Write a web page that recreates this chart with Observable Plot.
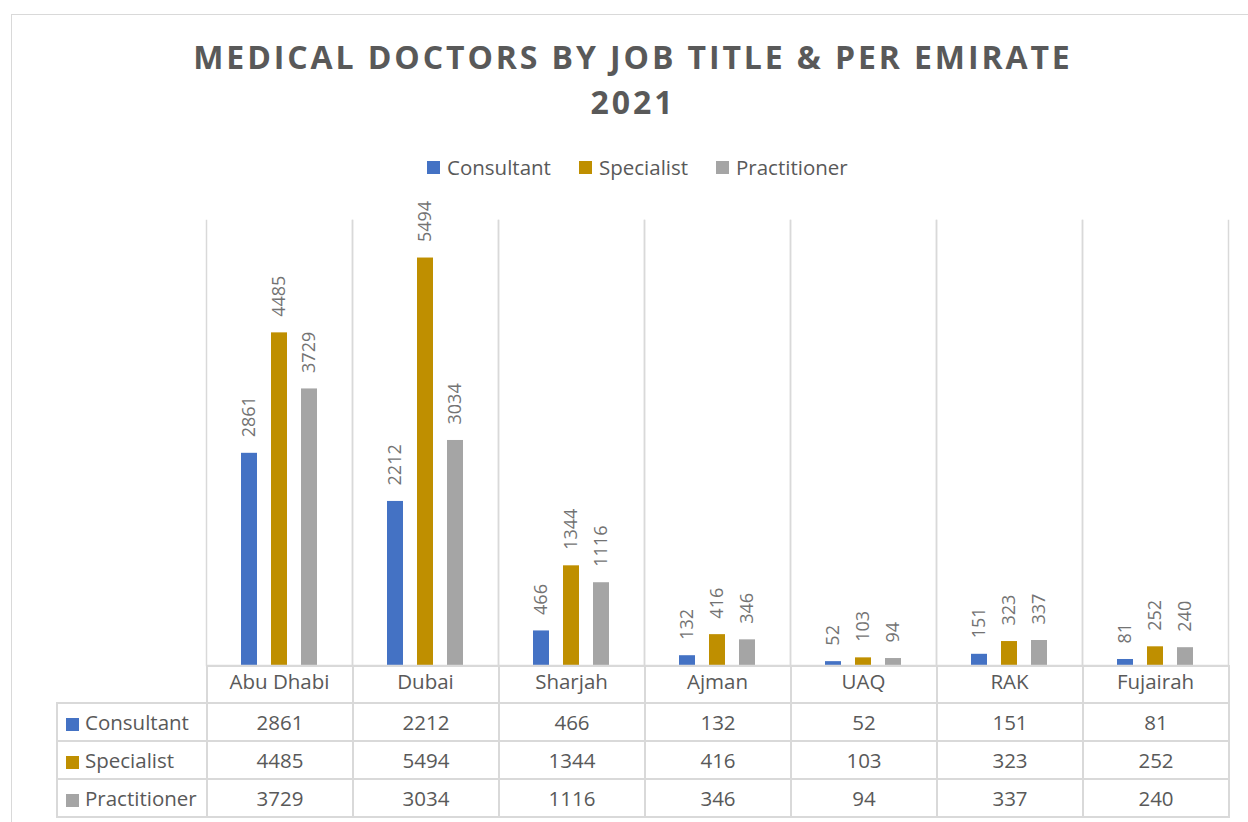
<!DOCTYPE html>
<html>
<head>
<meta charset="utf-8">
<script src="https://cdn.jsdelivr.net/npm/d3@7"></script>
<script src="https://cdn.jsdelivr.net/npm/@observablehq/plot@0.6"></script>
<style>
  html, body { margin:0; padding:0; background:#fff; width:1248px; height:822px; overflow:hidden; }
  body { position:relative; font-family:"Open Sans", sans-serif; color:#595959; }
  #frame { position:absolute; left:11px; top:14px; width:1400px; height:1000px; border:1px solid #d9d9d9; }
  #title { position:absolute; left:0; top:34px; width:1266px; text-align:center; font-weight:700; font-size:32px; line-height:45px; letter-spacing:2.9px; color:#595959; }
  .lg-sq { position:absolute; top:161px; width:13px; height:13px; }
  .lg-tx { position:absolute; top:157px; font-size:20.5px; line-height:20px; color:#595959; white-space:nowrap; }
  #chart { position:absolute; left:0; top:190px; z-index:2; }
  #tbl { position:absolute; left:56px; top:665px; border-collapse:collapse; table-layout:fixed; width:1172px; font-size:20.5px; color:#595959; }
  #tbl td { border:2px solid #d9d9d9; text-align:center; padding:0; height:36px; line-height:20px; white-space:nowrap; }
  #tbl tr.hdr td { height:35px; }
  #tbl td.corner { border-left:none; border-top:none; }
  #tbl td.lab { text-align:left; padding-left:8px; }
  #tbl .sq { display:inline-block; width:13px; height:13px; margin-right:6px; vertical-align:-1px; }
</style>
</head>
<body>
<div id="frame"></div>
<div id="title">MEDICAL DOCTORS BY JOB TITLE &amp; PER EMIRATE<br>2021</div>
<div id="legend"></div>
<div id="chart"></div>
<table id="tbl"></table>
<script>
const emirates = ["Abu Dhabi", "Dubai", "Sharjah", "Ajman", "UAQ", "RAK", "Fujairah"];
const series = ["Consultant", "Specialist", "Practitioner"];
const consultant = [2861, 2212, 466, 132, 52, 151, 81];
const specialist = [4485, 5494, 1344, 416, 103, 323, 252];
const practitioner = [3729, 3034, 1116, 346, 94, 337, 240];
const colors = ["#4472c4", "#bf8f00", "#a5a5a5"];

const valuesBySeries = [consultant, specialist, practitioner];
const data = [];
emirates.forEach((e, i) => {
  series.forEach((s, j) => data.push({emirate: e, series: s, value: valuesBySeries[j][i]}));
});

// Legend
const legend = document.getElementById("legend");
const lgSq = [427, 579, 716];
series.forEach((s, j) => {
  const sq = document.createElement("div");
  sq.className = "lg-sq"; sq.style.left = lgSq[j] + "px"; sq.style.background = colors[j];
  const tx = document.createElement("div");
  tx.className = "lg-tx"; tx.style.left = (lgSq[j] + 20) + "px"; tx.textContent = s;
  legend.appendChild(sq); legend.appendChild(tx);
});

// Chart
const chart = Plot.plot({
  width: 1248,
  height: 512,
  marginTop: 30,
  marginBottom: 37,
  marginLeft: 206,
  marginRight: 20,
  style: {background: "transparent", fontFamily: "Open Sans", fontSize: "20.5px", color: "#595959", overflow: "visible"},
  fx: {domain: emirates, padding: 0, axis: "bottom", label: null, tickSize: 0, tickPadding: 9},
  x: {domain: series, axis: null, paddingInner: 0.4667, paddingOuter: 1.1667, round: false},
  y: {domain: [0, 6000], axis: null},
  color: {domain: series, range: colors},
  marks: [
    Plot.frame({anchor: "left", stroke: "#d9d9d9", strokeWidth: 1.5}),
    Plot.frame({anchor: "right", stroke: "#d9d9d9", strokeWidth: 1.5}),
    Plot.barY(data, {fx: "emirate", x: "series", y: "value", fill: "series"}),
    Plot.text(data, {fx: "emirate", x: "series", y: "value", text: d => String(d.value), rotate: -90, textAnchor: "start", dy: -16, fontSize: 18, fill: "#737373"}),
    Plot.ruleY([0], {stroke: "#d9d9d9", strokeWidth: 1.5})
  ]
});
document.getElementById("chart").appendChild(chart);

// Data table
const tbl = document.getElementById("tbl");
const cg = document.createElement("colgroup");
[150, ...emirates.map(() => 146)].forEach(w => {
  const c = document.createElement("col"); c.style.width = w + "px"; cg.appendChild(c);
});
tbl.appendChild(cg);
const hdr = document.createElement("tr");
hdr.className = "hdr";
const corner = document.createElement("td"); corner.className = "corner"; hdr.appendChild(corner);
emirates.forEach(() => hdr.appendChild(document.createElement("td")));
tbl.appendChild(hdr);
series.forEach((s, j) => {
  const tr = document.createElement("tr");
  const lab = document.createElement("td"); lab.className = "lab";
  const sq = document.createElement("span"); sq.className = "sq"; sq.style.background = colors[j];
  lab.appendChild(sq); lab.appendChild(document.createTextNode(s));
  tr.appendChild(lab);
  valuesBySeries[j].forEach(v => {
    const td = document.createElement("td"); td.textContent = v; tr.appendChild(td);
  });
  tbl.appendChild(tr);
});
</script>
</body>
</html>
